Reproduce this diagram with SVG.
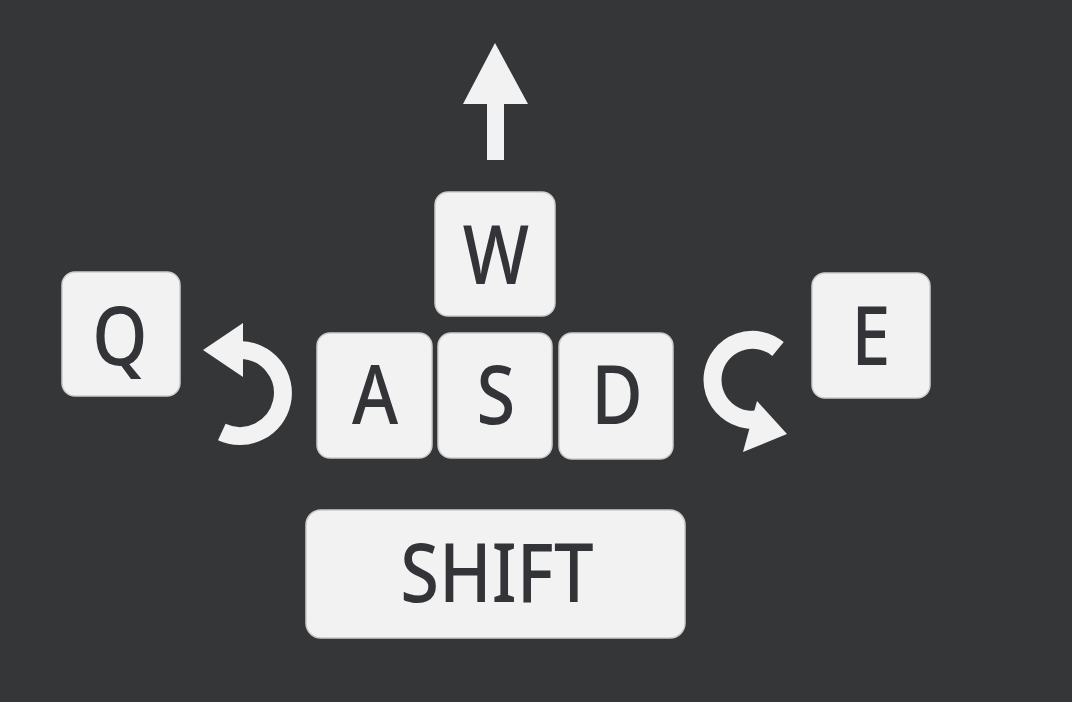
<svg xmlns="http://www.w3.org/2000/svg" width="1072" height="702" viewBox="0 0 1072 702">
<style>
.key{fill:#f2f2f2;stroke:#cdcdcd;stroke-width:1.5}
.lbl{font-family:"Noto Sans","Open Sans",sans-serif;font-weight:500;font-size:82px;fill:#333437;text-anchor:middle}
.arc{fill:none;stroke:#f2f2f2;stroke-width:18}
.head{fill:#f2f2f2}
</style>
<rect width="1072" height="702" fill="#353638"/>
<g id="key-q"><rect class="key" x="62" y="272" width="118" height="124" rx="13"/><text class="lbl" transform="translate(120,365) scale(0.86,1)">Q</text></g>
<g id="key-w"><rect class="key" x="435" y="192" width="120" height="124" rx="13"/><text class="lbl" transform="translate(496,284) scale(0.86,1)">W</text></g>
<g id="key-e"><rect class="key" x="812" y="273" width="118" height="125" rx="13"/><text class="lbl" transform="translate(871,365) scale(0.86,1)">E</text></g>
<g id="key-a"><rect class="key" x="317" y="333" width="115" height="125" rx="13"/><text class="lbl" transform="translate(375,424) scale(0.86,1)">A</text></g>
<g id="key-s"><rect class="key" x="438" y="333" width="114" height="125" rx="13"/><text class="lbl" transform="translate(496,424) scale(0.86,1)">S</text></g>
<g id="key-d"><rect class="key" x="559" y="333" width="114" height="126" rx="13"/><text class="lbl" transform="translate(617,424) scale(0.86,1)">D</text></g>
<g id="key-shift"><rect class="key" x="306" y="510" width="379" height="128" rx="15"/><text class="lbl" transform="translate(497,602) scale(0.86,1)">SHIFT</text></g>
<g id="connectors">
<g id="arrow-up"><polygon class="head" points="495,43 528,104 504,104 504,160 487,160 487,104 463,104"/></g>
<g id="arrow-left"><path class="arc" d="M240,350 A43,43 0 1 1 221.8,432"/><polygon class="head" points="203,350 243,323 243,377"/></g>
<g id="arrow-right"><path class="arc" d="M778,349 A40,40 0 1 0 765.7,417.6"/><polygon class="head" points="787,434 757,401 743,452"/></g>
</g>
</svg>
